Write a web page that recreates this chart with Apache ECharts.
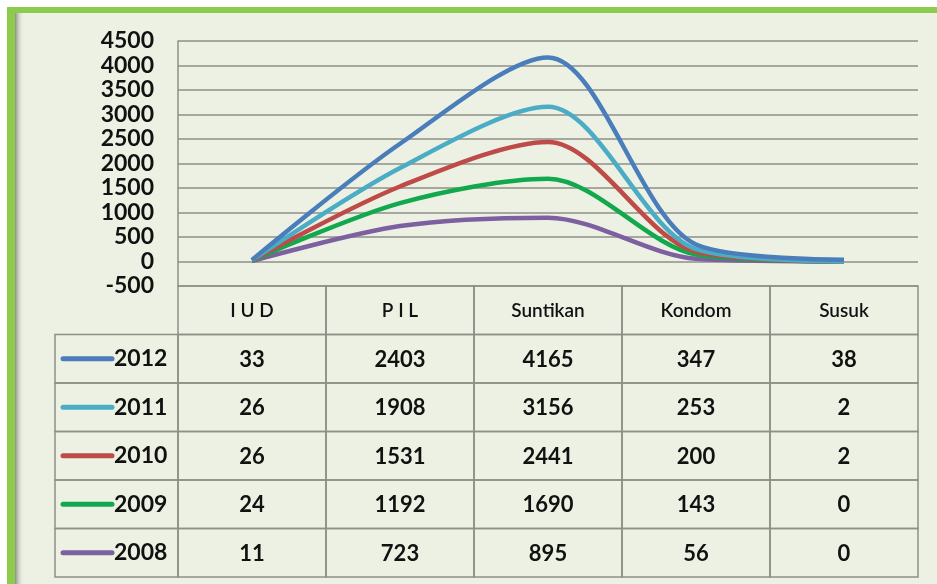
<!DOCTYPE html>
<html>
<head>
<meta charset="utf-8">
<script src="https://cdn.jsdelivr.net/npm/echarts@6/dist/echarts.min.js"></script>
<style>
  html, body { margin: 0; padding: 0; background: #fff; }
  #chart { width: 937px; height: 584px; }
</style>
</head>
<body>
<div id="chart"></div>
<script>
// categories and years
const categories = ['I U D', 'P I L', 'Suntikan', 'Kondom', 'Susuk'];
const years = ['2012', '2011', '2010', '2009', '2008'];
// values per year (same order as categories)
const v2012 = [33, 2403, 4165, 347, 38];
const v2011 = [26, 1908, 3156, 253, 2];
const v2010 = [26, 1531, 2441, 200, 2];
const v2009 = [24, 1192, 1690, 143, 0];
const v2008 = [11, 723, 895, 56, 0];
const yTicks = [-500, 0, 500, 1000, 1500, 2000, 2500, 3000, 3500, 4000, 4500];

const values = [v2012, v2011, v2010, v2009, v2008];
const colors = ['#4A7EBB', '#4BACC6', '#BE4B48', '#12A84E', '#7D60A0'];
const gridColor = '#8E8F88';
const font = 'Lato, "Open Sans", sans-serif';

// table cells: [col, row, text, kind, yearIndex]
const cells = [];
categories.forEach((c, j) => cells.push([j, 0, c, 'head', -1]));
years.forEach((y, i) => {
  cells.push([-1, i + 1, y, 'legend', i]);
  values[i].forEach((v, j) => cells.push([j, i + 1, String(v), 'val', i]));
});

const chart = echarts.init(document.getElementById('chart'));

function renderCell(params, api) {
  const cell = cells[params.dataIndex];
  const cs = params.coordSys;
  const c = api.coord([Math.max(cell[0], 0), cell[1]]);
  const s = api.size([1, 1]);
  const y0 = c[1] - s[1] / 2;
  let x0 = c[0] - s[0] / 2;
  let w = s[0];
  const children = [];
  if (cell[3] === 'legend') {
    x0 = cs.x - 123;
    w = 123;
    children.push({
      type: 'line',
      shape: { x1: x0 + 8, y1: c[1], x2: x0 + 57, y2: c[1] },
      style: { stroke: colors[cell[4]], lineWidth: 5, lineCap: 'round' }
    });
    children.push({
      type: 'text',
      style: {
        text: cell[2], x: x0 + 59, y: c[1],
        align: 'left', verticalAlign: 'middle',
        font: 'bold 23px ' + font, fill: '#111'
      }
    });
  } else {
    children.push({
      type: 'text',
      style: {
        text: cell[2], x: x0 + w / 2, y: c[1] + 1,
        align: 'center', verticalAlign: 'middle',
        font: (cell[3] === 'head' ? '600 19px ' : 'bold 22px ') + font,
        fill: '#111'
      }
    });
  }
  children.unshift({
    type: 'rect',
    shape: { x: x0, y: y0, width: w, height: s[1] },
    style: { fill: 'transparent', stroke: gridColor, lineWidth: 1.5 }
  });
  return { type: 'group', children: children };
}

chart.setOption({
  backgroundColor: '#ffffff',
  animation: false,
  graphic: [
    { type: 'rect', z: -10, shape: { x: 7, y: 7, width: 930, height: 577 }, style: { fill: '#8DCB4A' } },
    { type: 'rect', z: -9, shape: { x: 15, y: 13, width: 922, height: 571 }, style: { fill: '#EDF1E3' } },
    {
      type: 'rect', z: -8, shape: { x: 15, y: 13, width: 9, height: 571 },
      style: {
        fill: new echarts.graphic.LinearGradient(0, 0, 1, 0, [
          { offset: 0, color: 'rgba(60,60,60,0.55)' },
          { offset: 1, color: 'rgba(237,241,227,0)' }
        ])
      }
    }
  ],
  grid: [
    { left: 178, right: 19, top: 41, height: 245 },
    { left: 178, right: 19, top: 286, bottom: 7 }
  ],
  xAxis: [
    {
      gridIndex: 0, type: 'category', data: categories, boundaryGap: true,
      axisLine: { show: false }, axisTick: { show: false }, axisLabel: { show: false }
    },
    {
      gridIndex: 1, type: 'category', data: categories, boundaryGap: true,
      axisLine: { show: false }, axisTick: { show: false }, axisLabel: { show: false }
    }
  ],
  yAxis: [
    {
      gridIndex: 0, type: 'value',
      min: yTicks[0], max: yTicks[yTicks.length - 1], interval: 500,
      axisLine: { show: true, lineStyle: { color: gridColor, width: 1.5 } },
      axisTick: { show: false },
      axisLabel: {
        margin: 24, fontFamily: font, fontWeight: 'bold', fontSize: 23, color: '#111',
        formatter: v => String(v)
      },
      splitLine: { lineStyle: { color: gridColor, width: 1.5 } }
    },
    {
      gridIndex: 1, type: 'category', data: [''].concat(years), inverse: true,
      axisLine: { show: false }, axisTick: { show: false }, axisLabel: { show: false },
      splitLine: { show: false }
    }
  ],
  series: years.map((y, i) => ({
    name: y,
    type: 'line',
    xAxisIndex: 0, yAxisIndex: 0,
    data: values[i],
    smooth: 0.3,
    symbol: 'none',
    lineStyle: { color: colors[i], width: 4.5 },
    z: 10 - i
  })).concat([{
    type: 'custom',
    xAxisIndex: 1, yAxisIndex: 1,
    clip: false,
    data: cells.map(c => [Math.max(c[0], 0), c[1]]),
    renderItem: renderCell
  }])
});
</script>
</body>
</html>
